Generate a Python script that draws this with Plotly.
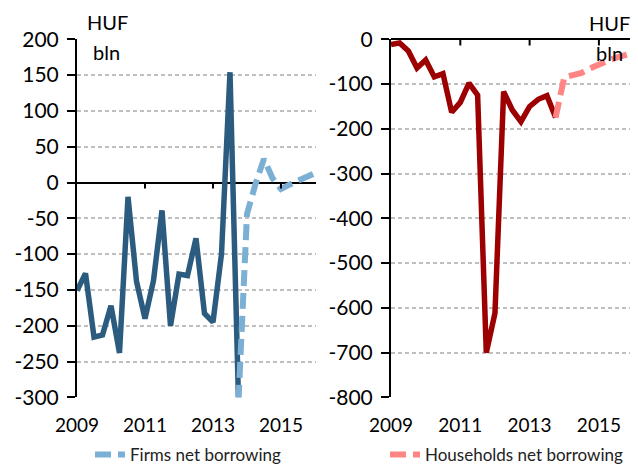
import plotly.graph_objects as go

# The page body has an 8px margin, so the figure is sized to the visible window
W, H = 630, 456
OFF = 8

# ---- data (quarterly, 2009Q1 .. 2016Q1) ----
quarters = [f"{y}Q{q}" for y in range(2009, 2017) for q in range(1, 5)][:29]
firms_actual = [-151, -127, -216, -213, -172, -238, -20, -138, -190, -137,
                -39, -200, -128, -130, -78, -183, -195, -100, 154, -305]
firms_forecast = [-305, -44, -2, 33, 6, -9, -3, 3, 8, 13]
hh_actual = [-12, -8, -26, -64, -46, -84, -77, -163, -141, -98,
             -125, -700, -612, -117, -158, -184, -150, -134, -126, -175]
hh_forecast = [-175, -85, -80, -75, -65, -55, -48, -41, -35, -30]

left_ticks = [200, 150, 100, 50, 0, -50, -100, -150, -200, -250, -300]
left_ticktext = ["200", "150", "100", "50", "0", "-50", "-100", "-150", "-200", "-250", "-300"]
right_ticks = [0, -100, -200, -300, -400, -500, -600, -700, -800]
right_ticktext = ["0", "-100", "-200", "-300", "-400", "-500", "-600", "-700", "-800"]
year_ticks = [2009, 2011, 2013, 2015]
year_text = ["2009", "2011", "2013", "2015"]


def qx(label):
    return int(label[:4]) + (int(label[-1]) - 1) / 4


x_all = [qx(q) for q in quarters]
x_act = x_all[:len(firms_actual)]
x_fc = x_all[len(firms_actual) - 1:]

FONT = "Lato"
C_FIRM = "#2B5B7F"
C_FIRM_FC = "#7BAFD4"
C_HH = "#9C0000"
C_HH_FC = "#FF8585"
GRID = "#BFBFBF"


def px(x):  # page pixel -> paper fraction
    return (x - OFF) / W


def py(y):
    return 1 - (y - OFF) / H


fig = go.Figure()
fig.add_trace(go.Scatter(x=x_act, y=firms_actual, mode="lines",
                         line=dict(color=C_FIRM, width=5.5), showlegend=False,
                         xaxis="x", yaxis="y"))
fig.add_trace(go.Scatter(x=x_fc, y=firms_forecast, mode="lines", name="Firms net borrowing",
                         line=dict(color=C_FIRM_FC, width=6, dash="16px,7px"),
                         xaxis="x", yaxis="y", legend="legend"))
fig.add_trace(go.Scatter(x=x_act, y=hh_actual, mode="lines",
                         line=dict(color=C_HH, width=5.5), showlegend=False,
                         xaxis="x2", yaxis="y2"))
fig.add_trace(go.Scatter(x=x_fc, y=hh_forecast, mode="lines", name="Households net borrowing",
                         line=dict(color=C_HH_FC, width=6, dash="16px,7px"),
                         xaxis="x2", yaxis="y2", legend="legend2"))

ydom = [py(397.3), py(39.3)]
common_x = dict(tickvals=year_ticks, ticktext=year_text, ticks="", showgrid=False,
                zeroline=False, showline=False, automargin=False,
                tickfont=dict(family=FONT, size=19, color="black"),
                ticklabelstandoff=15)
common_y = dict(showgrid=True, gridcolor=GRID, griddash="4px,3px", gridwidth=1.5,
                zeroline=True, zerolinecolor="black", zerolinewidth=2,
                showline=True, linecolor="black", linewidth=2, automargin=False,
                ticks="outside", ticklen=8, tickwidth=2, tickcolor="black",
                ticklabelstandoff=4,
                tickfont=dict(family=FONT, size=21, color="black"))

leg_font = dict(family=FONT, size=17, color="#222")
fig.update_layout(
    width=W, height=H,
    margin=dict(l=0, r=0, t=0, b=0, autoexpand=False),
    paper_bgcolor="white", plot_bgcolor="white",
    xaxis=dict(domain=[px(77), px(316)], range=[2009, 2016.03], anchor="y", **common_x),
    yaxis=dict(domain=ydom, range=[-300, 200], anchor="x",
               tickvals=left_ticks, ticktext=left_ticktext, **common_y),
    xaxis2=dict(domain=[px(391), px(636)], range=[2009, 2016.07], anchor="y2", **common_x),
    yaxis2=dict(domain=ydom, range=[-800, 0], anchor="x2",
                tickvals=right_ticks, ticktext=right_ticktext, **common_y),
    legend=dict(x=px(90), y=py(455), xanchor="left", yanchor="middle",
                orientation="h", font=leg_font, bgcolor="rgba(0,0,0,0)"),
    legend2=dict(x=px(385), y=py(455), xanchor="left", yanchor="middle",
                 orientation="h", font=leg_font, bgcolor="rgba(0,0,0,0)"),
)

# small category tick marks on the horizontal axis lines
shapes = []
for yv in year_ticks[1:]:
    shapes.append(dict(type="line", xref="x", yref="y", x0=yv, x1=yv, y0=0, y1=-8.5,
                       line=dict(color="black", width=2)))
    shapes.append(dict(type="line", xref="x2", yref="y2", x0=yv, x1=yv, y0=0, y1=-14,
                       line=dict(color="black", width=2)))
fig.update_layout(shapes=shapes)

ann_font = dict(family=FONT, size=20, color="black")
for (x, y, t) in [(107, 22, "HUF"), (106, 52, "bln"), (609, 23, "HUF"), (609, 53, "bln")]:
    fig.add_annotation(x=px(x), y=py(y), xref="paper", yref="paper", text=t,
                       showarrow=False, font=ann_font, xanchor="center", yanchor="middle")

fig.write_html("out.html")
